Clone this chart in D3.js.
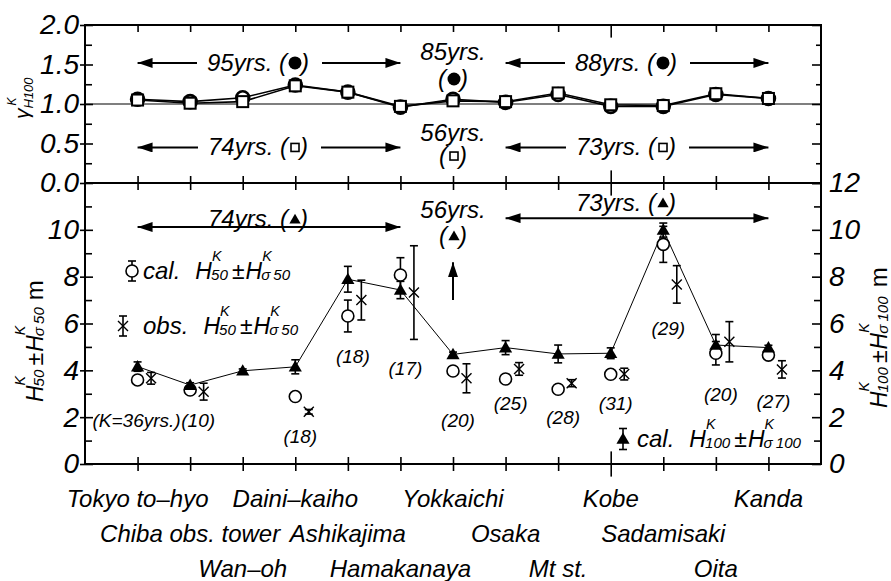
<!DOCTYPE html>
<html>
<head>
  <meta charset="utf-8">
  <script src="https://d3js.org/d3.v7.min.js"></script>
  <style>
    body { margin:0; background:#fff; }
    text { font-family:"Liberation Sans", Arial, sans-serif; font-style:italic; fill:#000; }
  </style>
</head>
<body>
<script>

// ---- data ----
var categories = ["Tokyo to\u2013hyo", "Chiba obs. tower", "Wan\u2013oh", "Daini\u2013kaiho", "Ashikajima",
                  "Hamakanaya", "Yokkaichi", "Osaka", "Mt st.", "Kobe", "Sadamisaki", "Oita", "Kanda"];

// top panel: gamma^K_H100
var gammaCircle = [1.06, 1.03, 1.08, 1.24, 1.15, 0.96, 1.06, 1.02, 1.12, 0.97, 0.97, 1.12, 1.07];
var gammaSquare = [1.05, 1.01, 1.03, 1.23, 1.15, 0.97, 1.04, 1.03, 1.14, 0.99, 0.98, 1.13, 1.07];

// bottom panel
var h100Cal   = [4.16, 3.37, 3.98, 4.15, 7.89, 7.43, 4.68, 4.97, 4.70, 4.73, 9.99, 5.08, 4.97];
var h100CalSd = [0.20, 0.10, 0.08, 0.30, 0.55, 0.37, 0.10, 0.30, 0.38, 0.23, 0.30, 0.45, 0.10];
var h50Cal    = [3.59, 3.16, null, 2.88, 6.32, 8.07, 3.97, 3.63, 3.19, 3.83, 9.38, 4.73, 4.65];
var h50CalSd  = [0.15, 0.10, null, 0.00, 0.68, 0.74, 0.15, 0.00, 0.00, 0.10, 0.77, 0.50, 0.10];
var h50Obs    = [3.66, 3.09, null, 2.23, 7.00, 7.32, 3.66, 4.06, 3.45, 3.84, 7.67, 5.22, 4.04];
var h50ObsSd  = [0.25, 0.36, null, 0.10, 0.85, 2.00, 0.62, 0.27, 0.15, 0.25, 0.80, 0.86, 0.37];

// sample sizes K and the height (m) they are written at
var kLabels = ["(K=36yrs.)", "(10)", null, "(18)", "(18)", "(17)", "(20)", "(25)", "(28)", "(31)", "(29)", "(20)", "(27)"];
var kLabelAt = [1.9, 1.9, null, 1.2, 4.6, 4.1, 1.9, 2.6, 2.0, 2.6, 5.8, 3.0, 2.7];

var topTicks = [0, 0.5, 1, 1.5, 2];
var botTicks = [0, 2, 4, 6, 8, 10, 12];

// ---- layout ----
var width = 891, height = 581;
var pl = 85, pr = 821, pt = 25, pm = 183, pb = 464;

var svg = d3.select("body").append("svg")
  .attr("width", width)
  .attr("height", height);

var defs = svg.append("defs");
defs.append("marker")
  .attr("id", "ah")
  .attr("viewBox", "0 0 15 10")
  .attr("refX", 15).attr("refY", 5)
  .attr("markerWidth", 15).attr("markerHeight", 10)
  .attr("markerUnits", "userSpaceOnUse")
  .attr("orient", "auto-start-reverse")
  .append("path").attr("d", "M0,0L15,5L0,10Z").attr("fill", "#000");

var x = d3.scalePoint().domain(categories).range([pl, pr]).padding(1);
var yTop = d3.scaleLinear().domain([0, 2]).range([pm, pt]);
var yBot = d3.scaleLinear().domain([0, 12]).range([pb, pm]);

function txt(g, px, py, s, fs, anchor) {
  return g.append("text").attr("x", px).attr("y", py)
    .attr("font-size", fs).attr("text-anchor", anchor || "start").text(s);
}
function tlen(t) { return t.node().getComputedTextLength(); }

// H with stacked superscript / subscript, returns end x
function hTerm(g, px, py, sup, sub, fs) {
  var h = txt(g, px, py, "H", fs);
  var w = tlen(h);
  var a = txt(g, px + w, py - 0.8 * fs, sup, fs * 0.62);
  var b = txt(g, px + w - 1, py + 0.06 * fs, sub, fs * 0.66);
  return px + w + Math.max(tlen(a), tlen(b));
}
function hPair(g, px, py, n, fs) {
  var e = hTerm(g, px, py, "K", n, fs);
  var pmk = txt(g, e + 3, py, "\u00b1", fs).style("font-style", "normal");
  e = e + 3 + tlen(pmk) + 1;
  return hTerm(g, e, py, "K", "\u03c3\u2009" + n, fs);
}

// ---- axes ----
function styleAxis(g) {
  g.attr("font-size", 28).attr("font-family", null);
  g.select(".domain").remove();
  g.selectAll("line").attr("stroke", "#000").attr("stroke-width", 1.6);
}

// top panel left (labels) + minor
svg.append("g").attr("transform", "translate(" + pl + ",0)")
  .call(d3.axisLeft(yTop).tickValues(topTicks).tickFormat(d3.format(".1f")).tickSize(5).tickPadding(1))
  .call(styleAxis)
  .call(function (g) { g.selectAll(".tick line").attr("x1", 8); });
svg.append("g").attr("transform", "translate(" + pl + ",0)")
  .call(d3.axisLeft(yTop).tickValues([0.25, 0.75, 1.25, 1.75]).tickFormat("").tickSize(-7))
  .call(styleAxis);
// top panel right
svg.append("g").attr("transform", "translate(" + pr + ",0)")
  .call(d3.axisRight(yTop).tickValues(topTicks).tickFormat("").tickSize(-9))
  .call(styleAxis);
svg.append("g").attr("transform", "translate(" + pr + ",0)")
  .call(d3.axisRight(yTop).tickValues([0.25, 0.75, 1.25, 1.75]).tickFormat("").tickSize(-5))
  .call(styleAxis);

// bottom panel left
svg.append("g").attr("transform", "translate(" + pl + ",0)")
  .call(d3.axisLeft(yBot).tickValues(botTicks.slice(0, 6)).tickFormat(d3.format("d")).tickSize(5).tickPadding(1))
  .call(styleAxis)
  .call(function (g) { g.selectAll(".tick line").attr("x1", 8); });
svg.append("g").attr("transform", "translate(" + pl + ",0)")
  .call(d3.axisLeft(yBot).tickValues([1, 3, 5, 7, 9, 11]).tickFormat("").tickSize(-7))
  .call(styleAxis);
// bottom panel right
svg.append("g").attr("transform", "translate(" + pr + ",0)")
  .call(d3.axisRight(yBot).tickValues(botTicks).tickFormat(d3.format("d")).tickSize(-9).tickPadding(8))
  .call(styleAxis);
svg.append("g").attr("transform", "translate(" + pr + ",0)")
  .call(d3.axisRight(yBot).tickValues([1, 3, 5, 7, 9, 11]).tickFormat("").tickSize(-7))
  .call(styleAxis);

// category ticks (Kobe tick drawn longer, as in the reference)
function catAxis(yPos, up, down) {
  svg.append("g").attr("transform", "translate(0," + yPos + ")")
    .call(d3.axisBottom(x).tickFormat("").tickSize(0))
    .call(styleAxis)
    .call(function (g) {
      g.selectAll(".tick line")
        .attr("y1", function (d, i) { return i === 9 ? -up * 1.8 : -up; })
        .attr("y2", function (d, i) { return i === 9 ? down * 1.8 : down; });
    });
}
catAxis(pt, 0, 7);
catAxis(pm, 7, 7);
catAxis(pb, 7, 7);

// frames
svg.append("rect").attr("x", pl).attr("y", pt).attr("width", pr - pl).attr("height", pb - pt)
  .attr("fill", "none").attr("stroke", "#000").attr("stroke-width", 2);
svg.append("line").attr("x1", pl).attr("x2", pr).attr("y1", pm).attr("y2", pm)
  .attr("stroke", "#000").attr("stroke-width", 2);

// category labels in three staggered rows
var rowBase = [507, 542, 577];
svg.append("g").selectAll("text").data(categories).enter().append("text")
  .attr("x", function (d) { return x(d); })
  .attr("y", function (d, i) { return rowBase[i % 3]; })
  .attr("font-size", 24)
  .attr("text-anchor", "middle")
  .text(function (d) { return d; });

// ---- top panel marks ----
var gt = svg.append("g");
gt.append("line").attr("x1", pl).attr("x2", pr).attr("y1", yTop(1)).attr("y2", yTop(1))
  .attr("stroke", "#000").attr("stroke-width", 1.2);

var lineTop = d3.line().x(function (d, i) { return x(categories[i]); }).y(function (d) { return yTop(d); });
gt.append("path").attr("d", lineTop(gammaCircle)).attr("fill", "none").attr("stroke", "#000").attr("stroke-width", 1.6);
gt.append("path").attr("d", lineTop(gammaSquare)).attr("fill", "none").attr("stroke", "#000").attr("stroke-width", 1.6);

gt.selectAll("circle").data(gammaCircle).enter().append("circle")
  .attr("cx", function (d, i) { return x(categories[i]); })
  .attr("cy", function (d) { return yTop(d); })
  .attr("r", 6.5).attr("fill", "#fff").attr("stroke", "#000").attr("stroke-width", 2.6);
gt.selectAll("rect.sq").data(gammaSquare).enter().append("rect").attr("class", "sq")
  .attr("x", function (d, i) { return x(categories[i]) - 5.5; })
  .attr("y", function (d) { return yTop(d) - 5.5; })
  .attr("width", 11).attr("height", 11)
  .attr("fill", "#fff").attr("stroke", "#000").attr("stroke-width", 2);

// ---- annotation helpers ----
function drawSym(g, cx, cy, sym) {
  if (sym === "circle") {
    g.append("circle").attr("cx", cx).attr("cy", cy).attr("r", 6.5).attr("fill", "#000");
  } else if (sym === "square") {
    g.append("rect").attr("x", cx - 4).attr("y", cy - 4).attr("width", 8).attr("height", 8)
      .attr("fill", "#fff").attr("stroke", "#000").attr("stroke-width", 1.6);
  } else {
    g.append("path").attr("transform", "translate(" + cx + "," + (cy + 1) + ")")
      .attr("d", d3.symbol(d3.symbolTriangle).size(55)()).attr("fill", "#000");
  }
}
// "prefix (sym)" centred on cx, baseline py; returns [x0, x1]
function symText(g, cx, py, prefix, sym, fs) {
  var t1 = txt(g, 0, py, prefix + "(", fs);
  var t2 = txt(g, 0, py, ")", fs);
  var sw = sym === "circle" ? 14 : 12;
  var w = tlen(t1) + sw + tlen(t2);
  var x0 = cx - w / 2;
  t1.attr("x", x0);
  drawSym(g, x0 + tlen(t1) + sw / 2 + 1, py - 8, sym);
  t2.attr("x", x0 + tlen(t1) + sw);
  return [x0, x0 + w];
}
function arrow(g, x1, y1, x2, y2, both) {
  var l = g.append("line").attr("x1", x1).attr("y1", y1).attr("x2", x2).attr("y2", y2)
    .attr("stroke", "#000").attr("stroke-width", 2).attr("marker-end", "url(#ah)");
  if (both) l.attr("marker-start", "url(#ah)");
}

var ga = svg.append("g");
var fsA = 24;
// inline span annotations in the top panel
[
  { text: "95yrs. ", sym: "circle", from: 0, to: 5, at: 1.52 },
  { text: "88yrs. ", sym: "circle", from: 7, to: 12, at: 1.52 },
  { text: "74yrs. ", sym: "square", from: 0, to: 5, at: 0.45 },
  { text: "73yrs. ", sym: "square", from: 7, to: 12, at: 0.45 }
].forEach(function (a) {
  var xa = x(categories[a.from]), xb = x(categories[a.to]);
  var yy = yTop(a.at);
  var ext = symText(ga, (xa + xb) / 2 - 11, yy + 8, a.text, a.sym, fsA);
  arrow(ga, ext[0] - 10, yy, xa, yy, false);
  arrow(ga, ext[1] + 13, yy, xb, yy, false);
});
// stacked annotations at Yokkaichi
var xy = x(categories[6]);
txt(ga, xy, yTop(1.56), "85yrs.", fsA, "middle");
symText(ga, xy, yTop(1.215), "", "circle", fsA);
txt(ga, xy, yTop(0.53), "56yrs.", fsA, "middle");
symText(ga, xy, yTop(0.24), "", "square", fsA);
txt(ga, xy, yBot(10.5), "56yrs.", fsA, "middle");
symText(ga, xy, yBot(9.39), "", "triangle", fsA);
arrow(ga, xy, yBot(7.0), xy, yBot(8.62), false);

// bottom panel span annotations (text above a double arrow)
[
  { text: "74yrs. ", from: 0, to: 5, at: 10.12, textAt: 10.45 },
  { text: "73yrs. ", from: 7, to: 12, at: 10.5, textAt: 11.15 }
].forEach(function (a) {
  var xa = x(categories[a.from]), xb = x(categories[a.to]);
  symText(ga, (xa + xb) / 2 - 11, yBot(a.textAt) + 8, a.text, "triangle", fsA);
  arrow(ga, xa, yBot(a.at), xb, yBot(a.at), true);
});

// ---- bottom panel marks ----
var gb = svg.append("g");
function errBar(g, cx, v, sd) {
  if (v == null || !sd) return;
  var y1 = yBot(v - sd), y2 = yBot(v + sd);
  g.append("line").attr("x1", cx).attr("x2", cx).attr("y1", y1).attr("y2", y2);
  g.append("line").attr("x1", cx - 4).attr("x2", cx + 4).attr("y1", y1).attr("y2", y1);
  g.append("line").attr("x1", cx - 4).attr("x2", cx + 4).attr("y1", y2).attr("y2", y2);
}
var ge = gb.append("g").attr("stroke", "#000").attr("stroke-width", 1.6);
var obsDx = 13.5;
categories.forEach(function (c, i) {
  errBar(ge, x(c), h100Cal[i], h100CalSd[i]);
  errBar(ge, x(c), h50Cal[i], h50CalSd[i]);
  errBar(ge, x(c) + obsDx, h50Obs[i], h50ObsSd[i]);
});

var lineBot = d3.line().x(function (d, i) { return x(categories[i]); }).y(function (d) { return yBot(d); });
gb.append("path").attr("d", lineBot(h100Cal)).attr("fill", "none").attr("stroke", "#000").attr("stroke-width", 1);

categories.forEach(function (c, i) {
  if (h50Cal[i] == null) return;
  gb.append("circle").attr("cx", x(c)).attr("cy", yBot(h50Cal[i]))
    .attr("r", 6).attr("fill", "#fff").attr("stroke", "#000").attr("stroke-width", 1.6);
});

var crossPath = "M-5,-5L5,5M-5,5L5,-5";
categories.forEach(function (c, i) {
  if (h50Obs[i] == null) return;
  gb.append("path").attr("transform", "translate(" + (x(c) + obsDx) + "," + yBot(h50Obs[i]) + ")")
    .attr("d", crossPath).attr("stroke", "#000").attr("stroke-width", 1.4).attr("fill", "none");
});

gb.selectAll("path.tri").data(h100Cal).enter().append("path").attr("class", "tri")
  .attr("transform", function (d, i) { return "translate(" + x(categories[i]) + "," + (yBot(d) + 1) + ")"; })
  .attr("d", d3.symbol(d3.symbolTriangle).size(75)())
  .attr("fill", "#000");

// K labels
categories.forEach(function (c, i) {
  if (!kLabels[i]) return;
  txt(gb, x(c) + (i === 0 ? -1 : i === 1 ? 8 : 5), yBot(kLabelAt[i]) + 7, kLabels[i], 19, "middle");
});

// ---- legends ----
var gl = svg.append("g");
var gle = gl.append("g").attr("stroke", "#000").attr("stroke-width", 1.6);
function legBar(cx, cy, half) {
  gle.append("line").attr("x1", cx).attr("x2", cx).attr("y1", cy - half).attr("y2", cy + half);
  gle.append("line").attr("x1", cx - 4).attr("x2", cx + 4).attr("y1", cy - half).attr("y2", cy - half);
  gle.append("line").attr("x1", cx - 4).attr("x2", cx + 4).attr("y1", cy + half).attr("y2", cy + half);
}
legBar(132, 271, 10);
gl.append("circle").attr("cx", 132).attr("cy", 271).attr("r", 6).attr("fill", "#fff").attr("stroke", "#000").attr("stroke-width", 1.6);
var e1 = txt(gl, 143, 279, "cal.", 24);
hPair(gl, 143 + tlen(e1) + 15, 279, "50", 23);

legBar(123, 326, 10);
gl.append("path").attr("transform", "translate(123,326)").attr("d", crossPath)
  .attr("stroke", "#000").attr("stroke-width", 1.4).attr("fill", "none");
var e2 = txt(gl, 143, 334, "obs.", 24);
hPair(gl, 143 + tlen(e2) + 15, 334, "50", 23);

legBar(623, 439, 10.5);
gl.append("path").attr("transform", "translate(623,440)").attr("d", d3.symbol(d3.symbolTriangle).size(75)()).attr("fill", "#000");
var e3 = txt(gl, 637, 447, "cal.", 24);
hPair(gl, 637 + tlen(e3) + 15, 447, "100", 23);

// ---- axis titles ----
var tl = svg.append("g").attr("transform", "translate(43,402) rotate(-90)");
var end = hPair(tl, 0, 0, "50", 23);
txt(tl, end + 6, 0, "m", 24).style("font-style", "normal");

var tr = svg.append("g").attr("transform", "translate(887,408) rotate(-90)");
end = hPair(tr, 0, 0, "100", 23);
txt(tr, end + 8, 0, "m", 24).style("font-style", "normal");

var tt = svg.append("g").attr("transform", "translate(29,119) rotate(-90)");
var gm = txt(tt, 0, 0, "\u03b3", 21);
txt(tt, tlen(gm) + 3, -13, "K", 12);
txt(tt, tlen(gm), 4, "H100", 13);

</script>
</body>
</html>
